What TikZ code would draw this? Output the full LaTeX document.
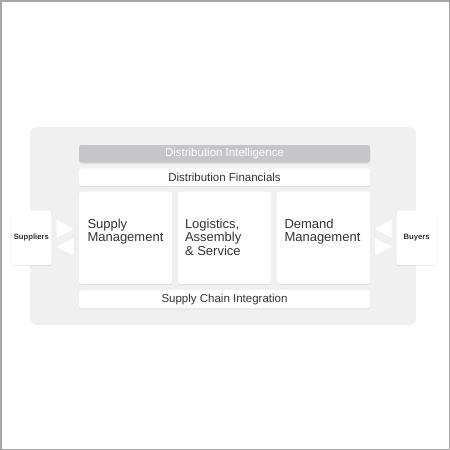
\documentclass[tikz,border=0pt]{standalone}
\usepackage{fontspec}
\setmainfont{Liberation Sans}
\usetikzlibrary{shadows}
\definecolor{panelgray}{HTML}{F0F0F0}
\definecolor{bargray}{HTML}{C6C6CA}
\definecolor{txt}{HTML}{333333}
\definecolor{framegray}{HTML}{A6A6A6}
\tikzset{
  card/.style={fill=white, draw=none, rounded corners=2.5pt, inner sep=0pt,
    drop shadow={shadow xshift=0pt, shadow yshift=-1pt, opacity=0.08, fill=black}},
  bar/.style={card, minimum width=291pt, text=txt, font=\fontsize{11.5}{13}\selectfont},
  bigbox/.style={card, minimum width=93pt, minimum height=92.3pt},
  boxtext/.style={anchor=north west, inner sep=0pt, align=left, text=txt,
    font=\fontsize{13}{13.8}\selectfont},
  party/.style={card, minimum width=39.5pt, minimum height=54.3pt, text=txt,
    font=\bfseries\fontsize{7.7}{9}\selectfont},
  tri/.style={fill=white, draw=none}
}
\begin{document}
\begin{tikzpicture}[x=1pt,y=-1pt]
\useasboundingbox (0,0) rectangle (450,450);
\fill[white] (0,0) rectangle (450,450);
\draw[framegray, line width=1.5pt] (0.75,0.75) rectangle (449.25,449.25);
% panel
\node[fill=panelgray, rounded corners=7pt, minimum width=386pt, minimum height=198pt, inner sep=0pt] (panel) at (223,226) {};
% bars
\node[bar, fill=bargray, text=white, minimum height=17.5pt] (intel) at (224.5,153.75) {Distribution Intelligence};
\node[bar, minimum height=17.7pt] (fin) at (224.5,177.15) {Distribution Financials};
\node[bar, minimum height=18.3pt] (sci) at (224.5,299.15) {Supply Chain Integration};
% three boxes
\node[bigbox] (sm) at (125.5,237.85) {};
\node[bigbox] (las) at (224.5,237.85) {};
\node[bigbox] (dm) at (323.5,237.85) {};
\node[boxtext] (smt) at ([xshift=8.5pt,yshift=-27pt]sm.north west) {Supply\\Management};
\node[boxtext] (last) at ([xshift=7pt,yshift=-27pt]las.north west) {Logistics,\\Assembly\\\& Service};
\node[boxtext] (dmt) at ([xshift=7.5pt,yshift=-27pt]dm.north west) {Demand\\Management};
% parties
\node[party] (sup) at (31.35,237.85) {Suppliers};
\node[party] (buy) at (416.7,237.85) {Buyers};
% triangles left
\fill[tri] (56.7,219.5) -- (73.5,228.7) -- (56.7,237.9) -- cycle;
\fill[tri] (73.5,238.3) -- (56.7,246.7) -- (73.5,255.2) -- cycle;
% triangles right
\fill[tri] (391.7,219.5) -- (374.9,228.7) -- (391.7,237.9) -- cycle;
\fill[tri] (374.9,238.3) -- (391.7,246.7) -- (374.9,255.2) -- cycle;
\end{tikzpicture}
\end{document}
